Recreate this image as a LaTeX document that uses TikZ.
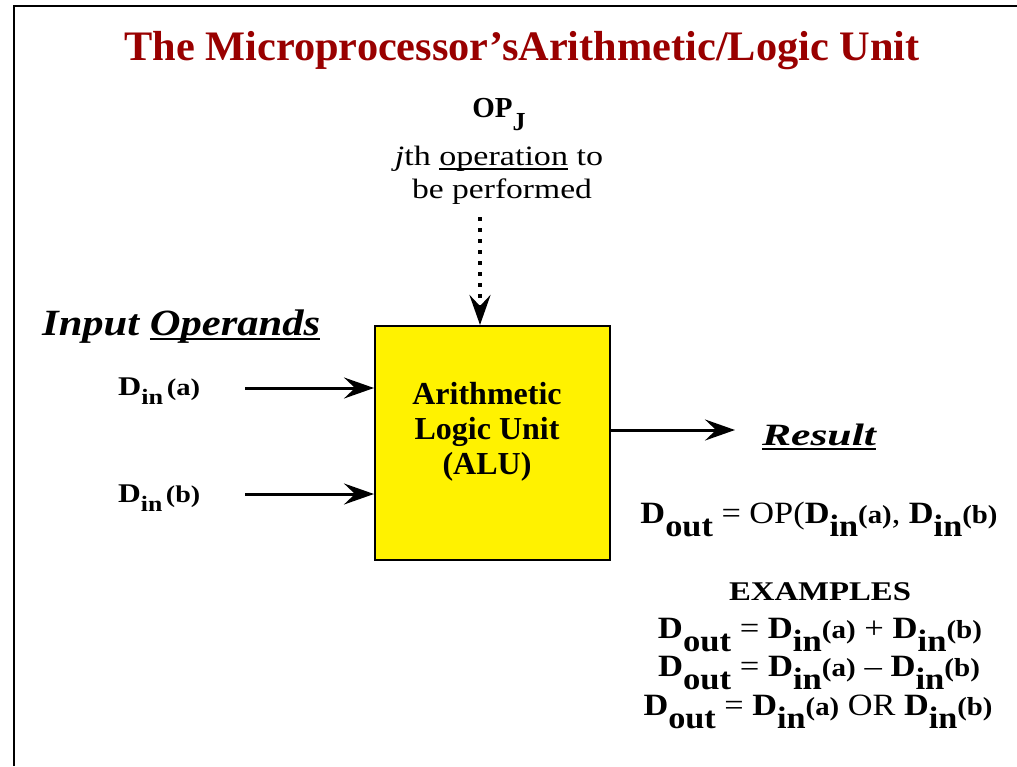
\documentclass[tikz,border=0pt]{standalone}
\usepackage{fontspec}
\setmainfont{Liberation Serif}
\usepackage{graphicx}
\usetikzlibrary{arrows.meta}
\definecolor{titlered}{RGB}{153,0,0}
\newcommand\fs[1]{\fontsize{#1}{#1}\selectfont}
\newcommand\fitw[2]{\resizebox{#1}{\height}{#2}}
\newcommand\ul[1]{\setbox0\hbox{#1}\rlap{\rule[-5pt]{\wd0}{1.8pt}}\box0\relax}
% left labels D_in(x)
\newcommand\LD[1]{{\fs{27}\bfseries D}\raisebox{-9pt}{\fs{22}\bfseries in}\hspace{3pt}{\fs{24}\bfseries(#1)}}
% right formulas
\newcommand\RD[1]{{\bfseries D}\raisebox{-13pt}{\bfseries #1}}
\newcommand\RA[1]{{\fs{26}\bfseries(#1)}}
\begin{document}
\begin{tikzpicture}[x=1pt,y=-1pt,
  lbl/.style={inner sep=0pt, anchor=base},
  arr/.style={line width=3pt, -{Stealth[length=30pt,width=21pt,inset=11pt]}},
  dotarr/.style={line width=4pt, dash pattern=on 4pt off 7pt, -{Stealth[length=30pt,width=21pt,inset=11pt]}},
  alubox/.style={draw=black, line width=2pt, fill=yellow, minimum width=235pt, minimum height=234pt, inner sep=0pt, anchor=north west},
]
\useasboundingbox (0,0) rectangle (1017,766);
\fill[white] (0,0) rectangle (1017,766);
\draw[line width=2.5pt] (14,766) -- (14,6) -- (1017,6);

\node[lbl, text=titlered, font=\fs{42}\bfseries] (title) at (522,60) {\fitw{795pt}{The Microprocessor's\kern0ptArithmetic/Logic Unit}};

\node[lbl, font=\fs{29}\bfseries] (op) at (499,117) {OP\raisebox{-13pt}{\fs{26}J}};
\node[lbl, font=\fs{28}] (opdesc1) at (499,165) {\fitw{208pt}{\textit{j}th \ul{operation} to}};
\node[lbl, font=\fs{28}] (opdesc2) at (502,198) {\fitw{180pt}{be performed}};

\node[lbl, anchor=base west, font=\fs{37}\bfseries\itshape] (inops) at (42,335) {\fitw{278pt}{Input \ul{Operands}}};
\node[lbl, anchor=base west] (dina) at (118,395) {\fitw{82pt}{\LD{a}}};
\node[lbl, anchor=base west] (dinb) at (118,502) {\fitw{82pt}{\LD{b}}};

\node[alubox] (alu) at (374,325) {};
\node[lbl, font=\fs{32}\bfseries] (alu1) at (487,404) {Arithmetic};
\node[lbl, font=\fs{32}\bfseries] (alu2) at (487,439) {Logic Unit};
\node[lbl, font=\fs{32}\bfseries] (alu3) at (487,474) {(ALU)};

\coordinate (opstart) at (480,217);
\coordinate (astart) at (245,388);
\coordinate (bstart) at (245,494);
\coordinate (rend) at (735,430);
\draw[dotarr] (opstart) -- (opstart |- alu.north);
\draw[arr] (astart) -- (alu.west |- astart);
\draw[arr] (bstart) -- (alu.west |- bstart);
\draw[arr] (alu.east |- rend) -- (rend);

\node[lbl, font=\fs{31}\bfseries\itshape] (result) at (819,445) {\fitw{114pt}{\ul{Result}}};
\node[lbl, font=\fs{31}] (dout) at (819,523) {\fitw{357pt}{\RD{out} = OP(\RD{in}\RA{a}, \RD{in}\RA{b}}};
\node[lbl, font=\fs{27}\bfseries] (ex) at (820,600) {\fitw{182pt}{EXAMPLES}};
\node[lbl, font=\fs{31}] (ex1) at (820,638) {\fitw{324pt}{\RD{out} = \RD{in}\RA{a} + \RD{in}\RA{b}}};
\node[lbl, font=\fs{31}] (ex2) at (819,676) {\fitw{322pt}{\RD{out} = \RD{in}\RA{a} – \RD{in}\RA{b}}};
\node[lbl, font=\fs{31}] (ex3) at (818,715) {\fitw{349pt}{\RD{out} = \RD{in}\RA{a} OR \RD{in}\RA{b}}};
\end{tikzpicture}
\end{document}
